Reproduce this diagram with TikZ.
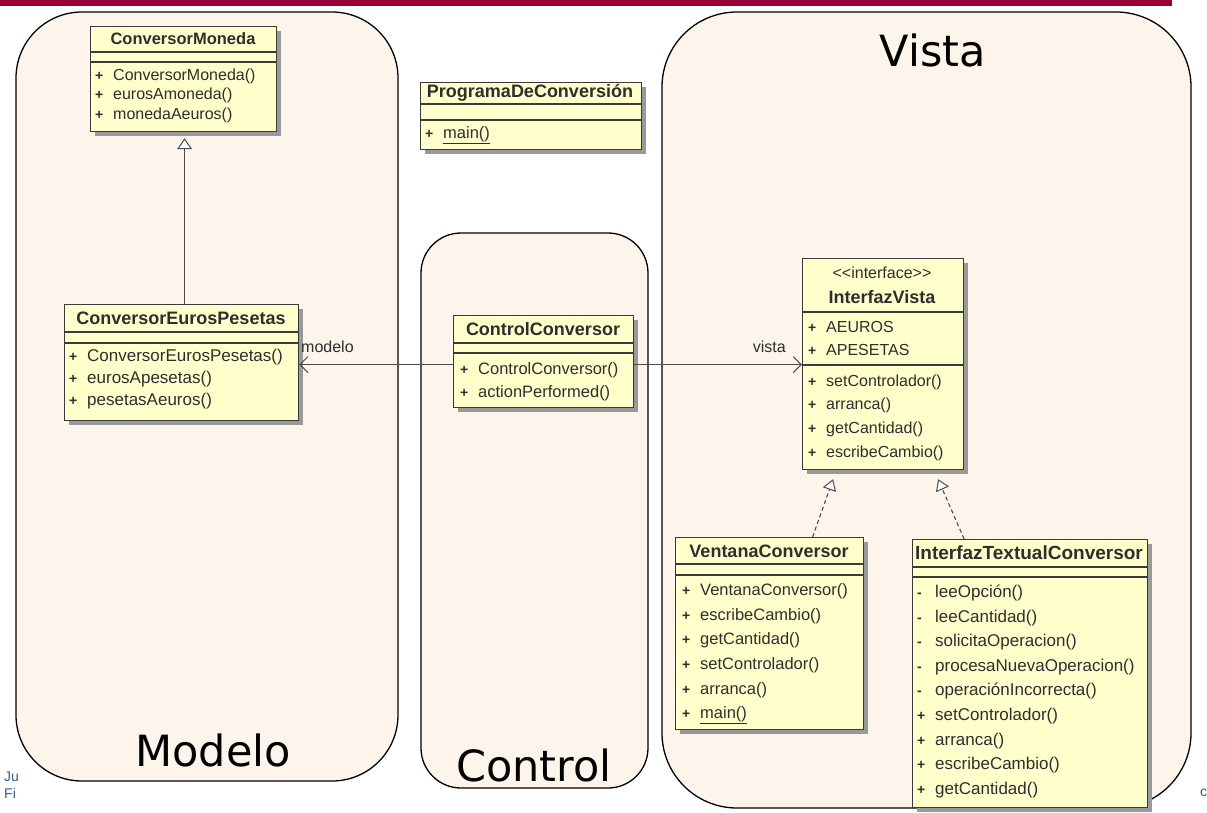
\documentclass[tikz,border=0pt]{standalone}
\usepackage{fontspec}
\setmainfont{Liberation Sans}
\newfontfamily\pkgfont{DejaVu Sans}
\usetikzlibrary{arrows.meta,shadows}

\definecolor{barred}{HTML}{990033}
\definecolor{pkgfill}{HTML}{FDF4EC}
\definecolor{classfill}{HTML}{FFFFCC}
\definecolor{classline}{HTML}{3A3A3A}
\definecolor{textgray}{HTML}{2E2E2E}
\definecolor{footblue}{HTML}{2F5F98}

\newcommand\memberfont{\fontsize{16.5}{19}\selectfont}
\newcommand\titlefont{\fontsize{18}{20}\selectfont\bfseries}
% visibility marker, slightly smaller and heavier than the member text
\newcommand\visib[1]{{\fontsize{14}{14}\selectfont\bfseries #1}}

% class rectangle: name, left, top, width, height
\newcommand\umlbox[5]{%
  \node[classbox, minimum width=#4pt, minimum height=#5pt] (#1) at (#2,#3) {};}
% compartment separator at a given height
\newcommand\umlsep[2]{\draw[sepline] (#1.west |- 0,#2) -- (#1.east |- 0,#2);}
% member rows: name, left, first row, pitch, list of visibility/text
\newcommand\umlmembers[5]{%
  \foreach \v/\t [count=\i] in {#5}
    \node[member] (#1-m\i) at (#2, {#3+#4*(\i-1)})
      {\makebox[18pt][l]{\visib{\v}}\t};}

\begin{document}
\begin{tikzpicture}[x=1pt,y=-1pt,
  pkg/.style={draw=black, line width=1.3pt, fill=pkgfill},
  pkglabel/.style={font=\pkgfont\fontsize{43}{46}\selectfont, text=black, inner sep=0},
  classbox/.style={draw=classline, line width=1.2pt, fill=classfill, inner sep=0,
    anchor=north west,
    drop shadow={shadow xshift=4pt, shadow yshift=-4pt, fill=black!40, opacity=1}},
  sepline/.style={draw=classline, line width=1.1pt},
  member/.style={font=\memberfont, text=textgray, anchor=west, inner sep=0},
  classtitle/.style={font=\titlefont, text=textgray, inner sep=0},
  stereo/.style={font=\memberfont, text=textgray, inner sep=0},
  assoc/.style={draw=black!70, line width=1pt,
    -{Straight Barb[length=8pt, width=16pt, line width=1pt]}},
  generalize/.style={draw=black!70, line width=1pt,
    -{Triangle[length=11pt, width=15pt, fill=white, line width=1pt]}},
  realize/.style={draw=black!70, line width=1.1pt, dash pattern=on 4pt off 3pt,
    -{Triangle[length=11pt, width=14pt, fill=white, line width=1pt, sep=0pt]}},
  rolelabel/.style={font=\fontsize{16}{18}\selectfont, text=textgray, inner sep=0},
  foot/.style={font=\fontsize{14}{16}\selectfont, text=footblue, anchor=west, inner sep=0}
]
\useasboundingbox (0,0) rectangle (1207,812);
\fill[white] (0,0) rectangle (1207,812);
\fill[barred] (0,0) rectangle (1172,6);

% footer fragments of the slide
\node[foot] (foot1) at (4,777) {Ju};
\node[foot] (foot2) at (4,793) {Fi};
\node[foot] (foot3) at (1200,793) {c};

% layers of the architecture
\draw[pkg, rounded corners=66pt] (16,12) rectangle (398,781);
\draw[pkg, rounded corners=40pt] (421,233) rectangle (648,788);
\draw[pkg, rounded corners=75pt] (662,12) rectangle (1191,808);

\node[pkglabel] (lmodelo) at (213,750) {Modelo};
\node[pkglabel] (lcontrol) at (534,765) {Control};
\node[pkglabel] (lvista) at (933,50) {Vista};

% ConversorMoneda
\begingroup
\renewcommand\memberfont{\fontsize{16}{18}\selectfont}
\renewcommand\titlefont{\fontsize{16.5}{18}\selectfont\bfseries}
\umlbox{cm}{90}{26}{186}{105}
\umlsep{cm}{52}\umlsep{cm}{62}
\node[classtitle] (cm-t) at (183,39) {ConversorMoneda};
\umlmembers{cm}{95}{76}{19.5}{+/ConversorMoneda(), +/eurosAmoneda(), +/monedaAeuros()}
\endgroup

% ProgramaDeConversión
\umlbox{pdc}{420}{82}{221}{67}
\umlsep{pdc}{104}\umlsep{pdc}{120}
\node[classtitle] (pdc-t) at (530,93) {ProgramaDeConversión};
\umlmembers{pdc}{425}{135}{20}{+/\underline{main()}}

% ConversorEurosPesetas
\begingroup
\renewcommand\memberfont{\fontsize{17}{19}\selectfont}
\umlbox{cep}{64}{304}{234}{116}
\umlsep{cep}{332}\umlsep{cep}{343}
\node[classtitle] (cep-t) at (181,318) {ConversorEurosPesetas};
\umlmembers{cep}{69}{357}{22}{+/ConversorEurosPesetas(), +/eurosApesetas(), +/pesetasAeuros()}
\endgroup

% ControlConversor
\umlbox{cc}{453}{315}{180}{92}
\umlsep{cc}{343}\umlsep{cc}{353}
\node[classtitle] (cc-t) at (543,329) {ControlConversor};
\umlmembers{cc}{460}{370}{23}{+/ControlConversor(), +/actionPerformed()}

% InterfazVista
\begingroup
\renewcommand\memberfont{\fontsize{16}{19}\selectfont}
\umlbox{iv}{802}{258}{161}{211}
\umlsep{iv}{312}\umlsep{iv}{365}
\node[stereo] (iv-s) at (882,273) {{<}{<}interface{>}{>}};
\node[classtitle] (iv-t) at (882,297) {InterfazVista};
\umlmembers{iv-a}{808}{327}{23}{+/AEUROS, +/APESETAS}
\umlmembers{iv}{808}{382}{23.7}{+/setControlador(), +/arranca(), +/getCantidad(), +/escribeCambio()}
\endgroup

% VentanaConversor
\umlbox{vc}{675}{537}{188}{192}
\umlsep{vc}{564}\umlsep{vc}{575}
\node[classtitle] (vc-t) at (769,551) {VentanaConversor};
\umlmembers{vc}{682}{591}{24.8}{+/VentanaConversor(), +/escribeCambio(), +/getCantidad(), +/setControlador(), +/arranca(), +/\underline{main()}}

% InterfazTextualConversor
\begingroup
\renewcommand\memberfont{\fontsize{17}{19}\selectfont}
\renewcommand\titlefont{\fontsize{19}{21}\selectfont\bfseries}
\umlbox{itc}{912}{539}{235}{268}
\umlsep{itc}{567}\umlsep{itc}{577}
\node[classtitle] (itc-t) at (1029,553) {InterfazTextualConversor};
\umlmembers{itc}{917}{593}{24.6}{-/leeOpción(), -/leeCantidad(), -/solicitaOperacion(), -/procesaNuevaOperacion(), -/operaciónIncorrecta(), +/setControlador(), +/arranca(), +/escribeCambio(), +/getCantidad()}
\endgroup

% relations
\draw[generalize, shorten >=6pt] ([xshift=3pt]cep.north) -- ([xshift=3pt]cep.north |- cm.south);
\draw[assoc] ([yshift=-3pt]cc.west) -- ([yshift=-3pt]cc.west -| cep.east);
\draw[assoc] ([yshift=-3pt]cc.east) -- ([yshift=-3pt]cc.east -| iv.west);
\node[rolelabel, anchor=west] (rmodelo) at (301,347) {modelo};
\node[rolelabel, anchor=east] (rvista) at (786,347) {vista};
\draw[realize] ([xshift=43pt]vc.north) -- ([xshift=-50pt, yshift=-9pt]iv.south);
\draw[realize] ([xshift=-66pt]itc.north) -- ([xshift=55pt, yshift=-9pt]iv.south);
\end{tikzpicture}
\end{document}
